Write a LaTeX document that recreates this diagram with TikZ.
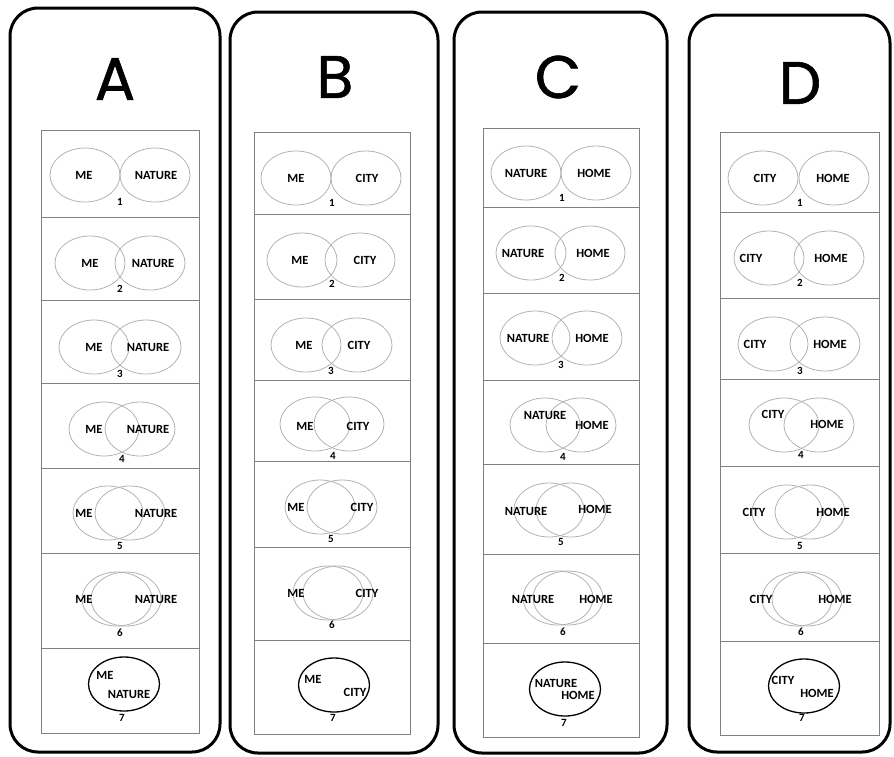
\documentclass[tikz,border=0pt]{standalone}
\usepackage{fontspec}
\setmainfont{Carlito}
\newfontfamily\titlefont{Poppins}[FakeBold=1]
\usetikzlibrary{shapes.geometric}
\tikzset{
 panel/.style={draw=black, line width=3pt, rounded corners=28pt},
 tablebox/.style={draw=black!50, line width=0.9pt},
 vring/.style={ellipse, draw=black!30, line width=0.8pt, inner sep=0pt, minimum width=70pt, minimum height=54pt},
 vfull/.style={ellipse, draw=black, line width=1.3pt, inner sep=0pt, minimum width=71pt, minimum height=54pt},
 vlab/.style={inner sep=0pt, font=\fontsize{12.5}{14}\selectfont\bfseries},
 vnum/.style={inner sep=0pt, font=\fontsize{11}{12}\selectfont\bfseries},
 ttl/.style={inner sep=0pt, font=\titlefont\fontsize{60}{60}\selectfont},
}
\newcommand\pn{a}
% #1 num, #2 cy, #3 cxL, #4 cxR, #5 left label xy, #6 text, #7 right label xy, #8 text, #9 number xy
\newcommand\vrow[9]{%
 \node[vring] (\pn eL#1) at (#3,#2) {};
 \node[vring] (\pn eR#1) at (#4,#2) {};
 \node[vlab] (\pn tL#1) at (#5) {#6};
 \node[vlab] (\pn tR#1) at (#7) {#8};
 \node[vnum] (\pn n#1) at (#9) {#1};
}
% #1 cx, #2 cy, #3 left xy, #4 text, #5 right xy, #6 text, #7 number xy
\newcommand\vlast[7]{%
 \node[vfull] (\pn e7) at (#1,#2) {};
 \node[vlab] (\pn tL7) at (#3) {#4};
 \node[vlab] (\pn tR7) at (#5) {#6};
 \node[vnum] (\pn n7) at (#7) {7};
}
\begin{document}
\begin{tikzpicture}[x=1pt,y=-1pt]
\useasboundingbox (0,0) rectangle (894,756);

% ---------- Panel A ----------
\renewcommand\pn{a}
\draw[panel] (10,8) rectangle (220,752);
\node[ttl] (ta) at (115,79) {A};
\draw[tablebox] (41,130) rectangle (199,733);
\foreach \y in {217,300,383,468,553,648} \draw[tablebox] (41,\y) -- (199,\y);
\vrow{1}{175}{85}{155}{84,175}{ME}{156,175}{NATURE}{120,202}
\vrow{2}{263}{90}{150}{90,263}{ME}{153,263}{NATURE}{120,289}
\vrow{3}{347}{94}{146}{94,347}{ME}{148,347}{NATURE}{120,374}
\vrow{4}{429}{104}{140}{94,429}{ME}{148,429}{NATURE}{122,459}
\vrow{5}{513}{108}{130}{84,513}{ME}{156,513}{NATURE}{120,546}
\vrow{6}{599}{117}{126}{84,599}{ME}{156,599}{NATURE}{120,633}
\vlast{124}{684}{105,675}{ME}{129,694}{NATURE}{122,718}

% ---------- Panel B ----------
\renewcommand\pn{b}
\draw[panel] (230,12) rectangle (438,753);
\node[ttl] (tb) at (335,77) {B};
\draw[tablebox] (254,132) rectangle (410,734);
\foreach \y in {214,299,380,461,547,640} \draw[tablebox] (254,\y) -- (410,\y);
\vrow{1}{178}{296}{366}{296,178}{ME}{367,178}{CITY}{332,203}
\vrow{2}{260}{302}{360}{300,260}{ME}{365,260}{CITY}{332,284}
\vrow{3}{345}{306}{357}{304,345}{ME}{359,345}{CITY}{331,371}
\vrow{4}{424}{315}{349}{305,426}{ME}{358,426}{CITY}{333,456}
\vrow{5}{507}{320}{342}{296,507}{ME}{362,507}{CITY}{331,539}
\vrow{6}{593}{328}{338}{296,593}{ME}{367,593}{CITY}{332,625}
\vlast{334}{685}{313,679}{ME}{355,692}{CITY}{333,718}

% ---------- Panel C ----------
\renewcommand\pn{c}
\draw[panel] (454,12) rectangle (667,753);
\node[ttl] (tc) at (558,77) {C};
\draw[tablebox] (483,128) rectangle (639,737);
\foreach \y in {207,293,380,464,554,643} \draw[tablebox] (483,\y) -- (639,\y);
\vrow{1}{173}{526}{596}{526,173}{NATURE}{594,173}{HOME}{562,198}
\vrow{2}{253}{531}{590}{523,253}{NATURE}{593,253}{HOME}{562,278}
\vrow{3}{338}{535}{587}{528,338}{NATURE}{592,338}{HOME}{561,365}
\vrow{4}{425}{545}{581}{545,415}{NATURE}{592,425}{HOME}{563,457}
\vrow{5}{510}{549}{571}{526,511}{NATURE}{595,509}{HOME}{561,542}
\vrow{6}{598}{558}{568}{533,599}{NATURE}{596,599}{HOME}{563,632}
\vlast{565}{689}{556,683}{NATURE}{578,695}{HOME}{564,723}

% ---------- Panel D ----------
\renewcommand\pn{d}
\draw[panel] (689,15) rectangle (890,752);
\node[ttl] (td) at (800,83) {D};
\draw[tablebox] (720,132) rectangle (879,735);
\foreach \y in {212,298,379,466,553,641} \draw[tablebox] (720,\y) -- (879,\y);
\vrow{1}{178}{763}{834}{765,178}{CITY}{833,178}{HOME}{800,203}
\vrow{2}{258}{769}{829}{751,258}{CITY}{831,258}{HOME}{800,283}
\vrow{3}{344}{773}{825}{755,344}{CITY}{830,344}{HOME}{800,371}
\vrow{4}{425}{784}{819}{773,414}{CITY}{827,424}{HOME}{801,455}
\vrow{5}{512}{787}{810}{754,512}{CITY}{833,512}{HOME}{800,546}
\vrow{6}{599}{797}{807}{761,599}{CITY}{835,599}{HOME}{801,632}
\vlast{804}{686}{783,680}{CITY}{817,693}{HOME}{802,718}
\end{tikzpicture}
\end{document}
